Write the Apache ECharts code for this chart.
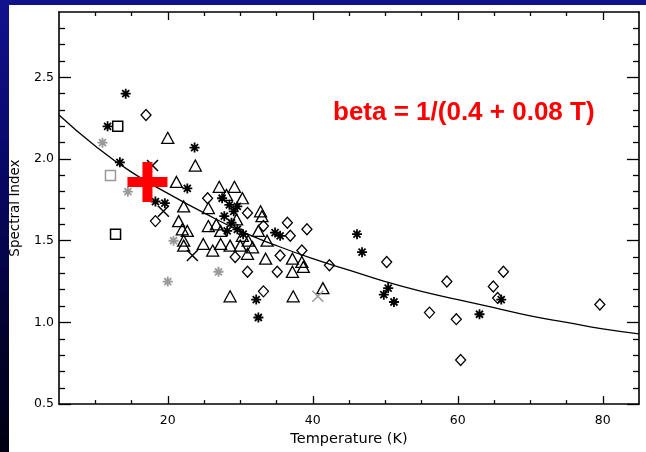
<!DOCTYPE html>
<html><head><meta charset="utf-8">
<script src="https://cdn.jsdelivr.net/npm/echarts@6/dist/echarts.min.js"></script>
<style>
html,body{margin:0;padding:0;width:646px;height:452px;overflow:hidden;}
body{background:linear-gradient(to bottom,#12128e 0%,#08086a 35%,#02022e 75%,#000012 100%);position:relative;}
#paper{position:absolute;left:9px;top:5px;width:637px;height:447px;background:#fff;}
#chart{position:absolute;left:0;top:0;width:646px;height:452px;}
</style></head><body>
<div id="paper"></div><div id="chart"></div>
<script>
// Fitted curve
const curveT    = [5,10,15,20,25,30,35,40,45,50,55,60,65,70,75,80,85];
const curveBeta = [2.27,2.08,1.92,1.79,1.67,1.56,1.47,1.39,1.32,1.25,1.19,1.14,1.09,1.04,1.00,0.96,0.93];

// Scatter groups: [Temperature (K), Spectral Index]
const triangles = [[20.0,2.13],[23.8,1.96],[21.2,1.86],[27.1,1.83],[29.2,1.83],[30.3,1.76],[22.2,1.71],[25.6,1.70],[21.5,1.62],[22.0,1.57],[22.7,1.56],[25.6,1.59],[26.7,1.60],[32.8,1.68],[33.0,1.65],[22.2,1.50],[22.2,1.47],[24.9,1.48],[26.2,1.44],[27.3,1.48],[28.6,1.47],[30.0,1.47],[31.1,1.50],[31.7,1.46],[33.5,1.39],[31.0,1.42],[32.5,1.56],[30.3,1.53],[33.7,1.50],[37.2,1.39],[38.5,1.37],[37.2,1.31],[38.7,1.34],[41.4,1.21],[28.6,1.16],[37.3,1.16],[28.1,1.78],[27.3,1.56],[29.5,1.63]];
const diamonds = [[17.0,2.27],[18.3,1.62],[25.5,1.76],[31.0,1.67],[36.5,1.61],[39.2,1.57],[36.9,1.53],[29.3,1.40],[31.0,1.31],[35.1,1.31],[33.2,1.19],[35.5,1.41],[38.5,1.44],[42.3,1.35],[50.2,1.37],[58.5,1.25],[56.1,1.06],[59.8,1.02],[60.4,0.77],[66.3,1.31],[64.9,1.22],[65.5,1.15],[79.6,1.11],[33.2,1.59]];
const blackAsterisks = [[14.2,2.40],[11.7,2.20],[23.7,2.07],[13.4,1.98],[22.7,1.82],[18.3,1.74],[19.6,1.73],[46.1,1.54],[46.8,1.43],[50.4,1.21],[49.8,1.17],[51.2,1.125],[63.0,1.05],[66.0,1.14],[32.2,1.14],[32.5,1.03],[27.5,1.76],[28.5,1.72],[29.1,1.68],[27.8,1.65],[28.8,1.61],[29.6,1.57],[28.2,1.56],[30.4,1.54],[34.8,1.55],[35.5,1.53],[29.6,1.71]];
const blackCrosses = [[17.9,1.96],[19.4,1.68],[23.4,1.41]];
const graySquares = [[12.1,1.90]];
const grayAsterisks = [[11.0,2.10],[14.5,1.80],[20.8,1.50],[20.0,1.25],[27.0,1.31]];
const grayCrosses = [[40.7,1.16]];
const blackSquares = [[13.1,2.20],[12.8,1.54]];
const highlight = [[17.2,1.86]];

// Axis ticks
const xMajor = [20,40,60,80];
const xMinor = [10,15,25,30,35,45,50,55,65,70,75];
const yMajor = [0.5,1.0,1.5,2.0,2.5];
const yMinor = [0.6,0.7,0.8,0.9,1.1,1.2,1.3,1.4,1.6,1.7,1.8,1.9,2.1,2.2,2.3,2.4,2.6,2.7,2.8];

const FONT = 'DejaVu Sans';
const AST = 'path://M5,0L5,10M0,5L10,5M1.5,1.5L8.5,8.5M8.5,1.5L1.5,8.5';
const XS  = 'path://M0,0L10,10M10,0L0,10';
const PLUS = 'path://M15,0H25V15H40V25H25V40H15V25H0V15H15Z';

const lineStyle = {color:'#000', width:1.6};
function xAx(pos, ticks, len, labels, showLine){
  return {type:'value', min:5, max:85, position:pos,
    axisLine:{show:showLine, onZero:false, lineStyle},
    axisTick:{show:true, inside:true, length:len, customValues:ticks, lineStyle:{color:'#000',width:1.3}},
    axisLabel: labels ? {show:true, customValues:xMajor, margin:10, color:'#000', fontFamily:FONT, fontSize:12.5} : {show:false},
    splitLine:{show:false}};
}
function yAx(pos, ticks, len, labels, showLine){
  return {type:'value', min:0.5, max:2.9, position:pos,
    axisLine:{show:showLine, onZero:false, lineStyle},
    axisTick:{show:true, inside:true, length:len, customValues:ticks, lineStyle:{color:'#000',width:1.3}},
    axisLabel: labels ? {show:true, customValues:yMajor, margin:5, color:'#000', fontFamily:FONT, fontSize:12.5,
       formatter:v=>Number(v).toFixed(1)} : {show:false},
    splitLine:{show:false}};
}
const xs = [xAx('bottom',xMajor,8,true,true), xAx('bottom',xMinor,4,false,false), xAx('top',xMajor,8,false,true), xAx('top',xMinor,4,false,false)];
Object.assign(xs[0], {name:'Temperature (K)', nameLocation:'middle', nameGap:24, nameTextStyle:{color:'#000', fontFamily:FONT, fontSize:14.5}});
const ys = [yAx('left',yMajor,12,true,true), yAx('left',yMinor,6,false,false), yAx('right',yMajor,12,false,true), yAx('right',yMinor,6,false,false)];
Object.assign(ys[0], {name:'Spectral Index', nameLocation:'middle', nameRotate:90, nameGap:37, nameTextStyle:{color:'#000', fontFamily:FONT, fontSize:13.5}});

function sc(data, symbol, size, stroke, bw, fill){
  return {type:'scatter', data, symbol, symbolSize:size, xAxisIndex:0, yAxisIndex:0,
    itemStyle:{color:fill||'rgba(0,0,0,0)', borderColor:stroke, borderWidth:bw, opacity:1},
    emphasis:{disabled:true}, z:3};
}

const chart = echarts.init(document.getElementById('chart'), null, {renderer:'canvas'});
chart.setOption({
  animation:false,
  backgroundColor:'transparent',
  grid:{left:58, top:12, right:7, bottom:45, containLabel:false},
  xAxis: xs,
  yAxis: ys,
  series:[
    {type:'line', data:curveT.map((t,i)=>[t,curveBeta[i]]), smooth:true, symbol:'none',
     lineStyle:{color:'#000', width:1.3}, z:2, emphasis:{disabled:true}},
    sc(triangles,'triangle',[12,11],'#000',1.3),
    sc(diamonds,'diamond',[10,11],'#000',1.3),
    sc(blackSquares,'rect',10,'#000',1.5),
    sc(graySquares,'rect',10,'#999',1.5),
    sc(blackAsterisks,AST,10,'#000',1.8),
    sc(grayAsterisks,AST,10,'#999',1.8),
    sc(blackCrosses,XS,11,'#000',1.5),
    sc(grayCrosses,XS,11,'#999',1.5),
    Object.assign(sc(highlight,PLUS,40,'#ff0000',0,'#ff0000'),{z:5})
  ],
  graphic:[{type:'text', left:333, top:100, z:10,
    style:{text:'beta = 1/(0.4 + 0.08 T)', fill:'#ff0000', font:'bold 26px "Liberation Sans", Arial, sans-serif'}}]
});
</script></body></html>
